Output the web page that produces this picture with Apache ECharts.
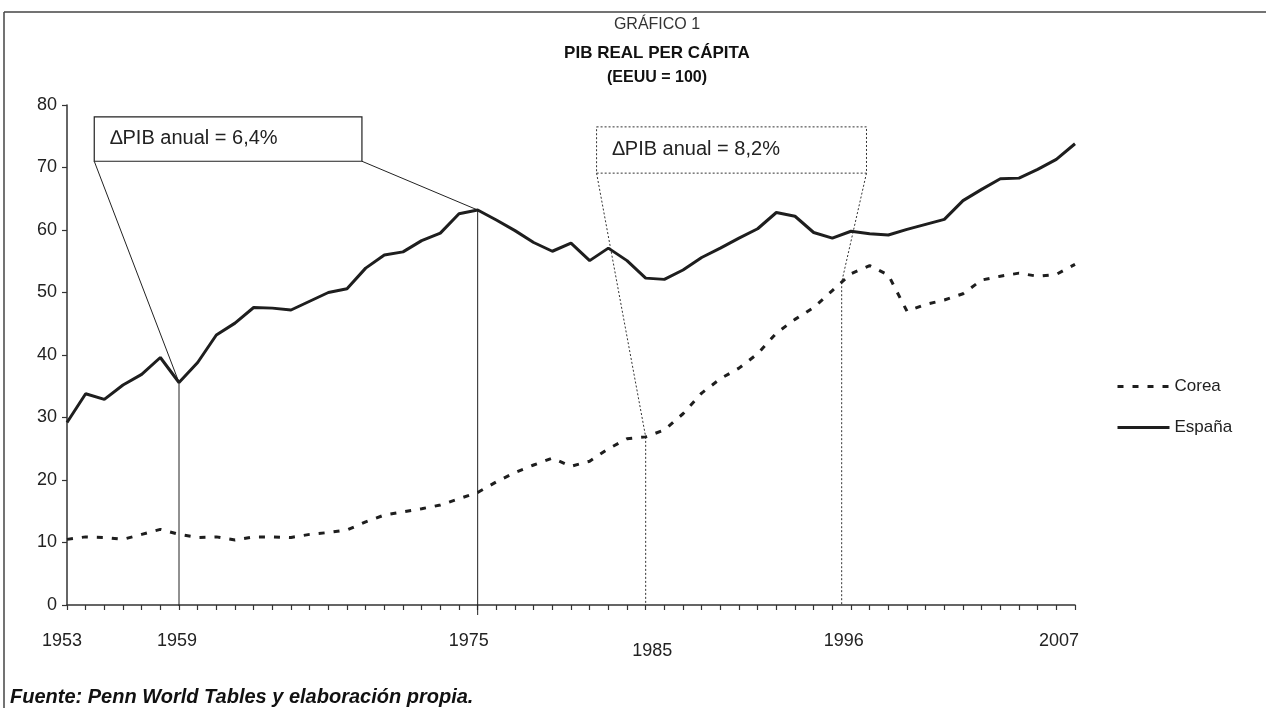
<!DOCTYPE html>
<html>
<head>
<meta charset="utf-8">
<script src="https://cdn.jsdelivr.net/npm/echarts@6/dist/echarts.min.js"></script>
<style>
html,body{margin:0;padding:0;background:#fff;}
#chart{width:1266px;height:708px;}
</style>
</head>
<body>
<div id="chart"></div>
<script>
// ---------- DATA ----------
const years = [1953,1954,1955,1956,1957,1958,1959,1960,1961,1962,1963,1964,1965,1966,1967,1968,1969,1970,
  1971,1972,1973,1974,1975,1976,1977,1978,1979,1980,1981,1982,1983,1984,1985,1986,1987,1988,1989,1990,
  1991,1992,1993,1994,1995,1996,1997,1998,1999,2000,2001,2002,2003,2004,2005,2006,2007];

const espana = [29.2,33.8,32.9,35.2,36.9,39.6,35.6,38.8,43.2,45.1,47.6,47.5,47.2,48.6,50.0,50.6,53.9,56.0,
  56.5,58.3,59.5,62.6,63.2,61.6,59.9,58.0,56.6,57.9,55.1,57.1,55.1,52.3,52.1,53.6,55.6,57.1,58.7,60.2,
  62.8,62.2,59.6,58.7,59.8,59.4,59.2,60.1,60.9,61.7,64.7,66.5,68.2,68.3,69.7,71.3,73.8];

const corea = [10.5,10.9,10.8,10.5,11.3,12.1,11.3,10.8,10.9,10.4,10.9,10.9,10.8,11.3,11.6,12.0,13.3,14.4,
  14.9,15.4,16.0,17.0,18.0,19.7,21.2,22.4,23.5,22.2,23.0,25.0,26.6,26.9,28.0,30.6,33.9,36.2,37.9,40.2,
  43.5,45.7,47.6,50.3,53.0,54.3,52.8,47.0,48.1,48.8,49.8,52.0,52.6,53.1,52.6,52.9,54.5];

const seriesNames = ['Corea', 'España'];
const labeledYears = [1953, 1959, 1975, 1985, 1996, 2007];
const yTickValues = [0, 10, 20, 30, 40, 50, 60, 70, 80];

const titleLines = ['GRÁFICO 1', 'PIB REAL PER CÁPITA', '(EEUU = 100)'];
const sourceNote = 'Fuente: Penn World Tables y elaboración propia.';

// Annotation boxes (in data coordinates) and the points they point at
const annoTexts = ['\u2206PIB anual = 6,4%', '\u2206PIB anual = 8,2%'];
const annoBoxes = [[1954.46, 78.1, 1968.8, 71.0], [1981.37, 76.5, 1995.83, 69.1]];
const annoStartYears = [1959, 1984];
const annoEndYears = [1975, 1994.5];
const annoSeries = ['espana', 'corea'];

// ---------- HELPERS ----------
const FONT = "'Liberation Sans', Arial, Helvetica, sans-serif";
const INK = '#1e1e1e';
function valueAt(arr, yr) {
  const i = Math.floor(yr - years[0]);
  const f = yr - years[0] - i;
  if (f === 0) return arr[i];
  return arr[i] + (arr[i + 1] - arr[i]) * f;
}
const seriesMap = { espana: espana, corea: corea };

const labelShift = { 1953: [0, 10], 1959: [0, 4], 1975: [0, 18], 1985: [10, 24], 1996: [0, 52], 2007: [0, 32] };
const rich = {};
labeledYears.forEach(y => {
  const s = labelShift[y] || [0, 0];
  rich['y' + y] = { fontSize: 18, fontFamily: FONT, color: '#222', padding: [s[0], s[1], 0, 0] };
});

const chart = echarts.init(document.getElementById('chart'), null, { renderer: 'canvas' });

const option = {
  backgroundColor: '#fff',
  animation: false,
  title: [
    { text: titleLines[0], left: 652, top: 12, textAlign: 'center',
      textStyle: { fontFamily: FONT, fontSize: 16, fontWeight: 'normal', color: '#333' } },
    { text: titleLines[1], left: 652, top: 40, textAlign: 'center',
      textStyle: { fontFamily: FONT, fontSize: 17, fontWeight: 'bold', color: '#111' } },
    { text: titleLines[2], left: 652, top: 65, textAlign: 'center',
      textStyle: { fontFamily: FONT, fontSize: 16, fontWeight: 'bold', color: '#111' } }
  ],
  legend: {
    data: seriesNames,
    orient: 'vertical',
    left: 1116,
    top: 378,
    padding: 0,
    itemWidth: 52,
    itemHeight: 14,
    itemGap: 24,
    itemStyle: { opacity: 0 },
    lineStyle: { width: 3 },
    textStyle: { fontFamily: FONT, fontSize: 17, color: '#222' }
  },
  grid: { left: 67, right: 191, top: 105, bottom: 103, containLabel: false },
  xAxis: {
    type: 'value',
    min: years[0],
    max: years[years.length - 1],
    interval: 1,
    splitLine: { show: false },
    axisLine: { lineStyle: { color: '#333', width: 1.5 } },
    axisTick: { length: 5, lineStyle: { color: '#333', width: 1.2 } },
    axisLabel: {
      margin: 27,
      showMinLabel: true,
      showMaxLabel: true,
      hideOverlap: false,
      formatter: v => labeledYears.indexOf(v) >= 0 ? '{y' + v + '|' + v + '}' : '',
      rich: rich
    }
  },
  yAxis: {
    type: 'value',
    min: yTickValues[0],
    max: yTickValues[yTickValues.length - 1],
    interval: 10,
    splitLine: { show: false },
    axisLine: { show: true, lineStyle: { color: '#333', width: 1.5 } },
    axisTick: { show: true, length: 5, lineStyle: { color: '#333', width: 1.2 } },
    axisLabel: { margin: 10, fontFamily: FONT, fontSize: 18, color: '#222' }
  },
  series: [
    {
      name: seriesNames[0],
      type: 'line',
      data: years.map((y, i) => [y, corea[i]]),
      symbol: 'none',
      smooth: false,
      lineStyle: { color: INK, width: 3, type: [6, 9] },
      itemStyle: { color: INK },
      z: 3
    },
    {
      name: seriesNames[1],
      type: 'line',
      data: years.map((y, i) => [y, espana[i]]),
      symbol: 'none',
      lineStyle: { color: INK, width: 3, type: 'solid' },
      itemStyle: { color: INK },
      z: 3
    },
    {
      name: 'anotaciones',
      type: 'custom',
      clip: false,
      silent: true,
      z: 2,
      data: annoTexts.map((t, i) => [i]),
      renderItem: function (params, api) {
        const i = params.dataIndex;
        const b = annoBoxes[i];
        const arr = seriesMap[annoSeries[i]];
        const dashed = i === 1;
        const dash = dashed ? [2, 2] : null;
        const tl = api.coord([b[0], b[1]]);
        const br = api.coord([b[2], b[3]]);
        const pS = api.coord([annoStartYears[i], valueAt(arr, annoStartYears[i])]);
        const pE = api.coord([annoEndYears[i], valueAt(arr, annoEndYears[i])]);
        const base = api.coord([annoStartYears[i], 0])[1];
        const stroke = dashed ? '#333' : '#222';
        const lw = 1;
        const children = [
          { type: 'rect', shape: { x: tl[0], y: tl[1], width: br[0] - tl[0], height: br[1] - tl[1] },
            style: { fill: '#fff', stroke: stroke, lineWidth: dashed ? 1 : 1.2, lineDash: dash } },
          { type: 'text', style: { text: annoTexts[i], x: tl[0] + 16, y: (tl[1] + br[1]) / 2 - 1,
              verticalAlign: 'middle', fontFamily: FONT, fontSize: 20, fill: '#222' } },
          { type: 'line', shape: { x1: tl[0], y1: br[1], x2: pS[0], y2: pS[1] },
            style: { stroke: stroke, lineWidth: lw, lineDash: dash } },
          { type: 'line', shape: { x1: br[0], y1: br[1], x2: pE[0], y2: pE[1] },
            style: { stroke: stroke, lineWidth: lw, lineDash: dash } },
          { type: 'line', shape: { x1: pS[0], y1: pS[1], x2: pS[0], y2: base + (dashed ? 0 : 1) },
            style: { stroke: stroke, lineWidth: lw, lineDash: dash } },
          { type: 'line', shape: { x1: pE[0], y1: pE[1], x2: pE[0], y2: base + (dashed ? 0 : 10) },
            style: { stroke: stroke, lineWidth: lw, lineDash: dash } }
        ];
        return { type: 'group', children: children };
      }
    }
  ],
  graphic: [
    { type: 'line', shape: { x1: 4, y1: 12, x2: 1266, y2: 12 }, style: { stroke: '#444', lineWidth: 1.5 } },
    { type: 'line', shape: { x1: 4, y1: 12, x2: 4, y2: 708 }, style: { stroke: '#444', lineWidth: 1.5 } },
    { type: 'text', left: 10, top: 687,
      style: { text: sourceNote, fontFamily: FONT, fontSize: 20, fontWeight: 'bold', fontStyle: 'italic', fill: '#111' } }
  ]
};

chart.setOption(option);
</script>
</body>
</html>
